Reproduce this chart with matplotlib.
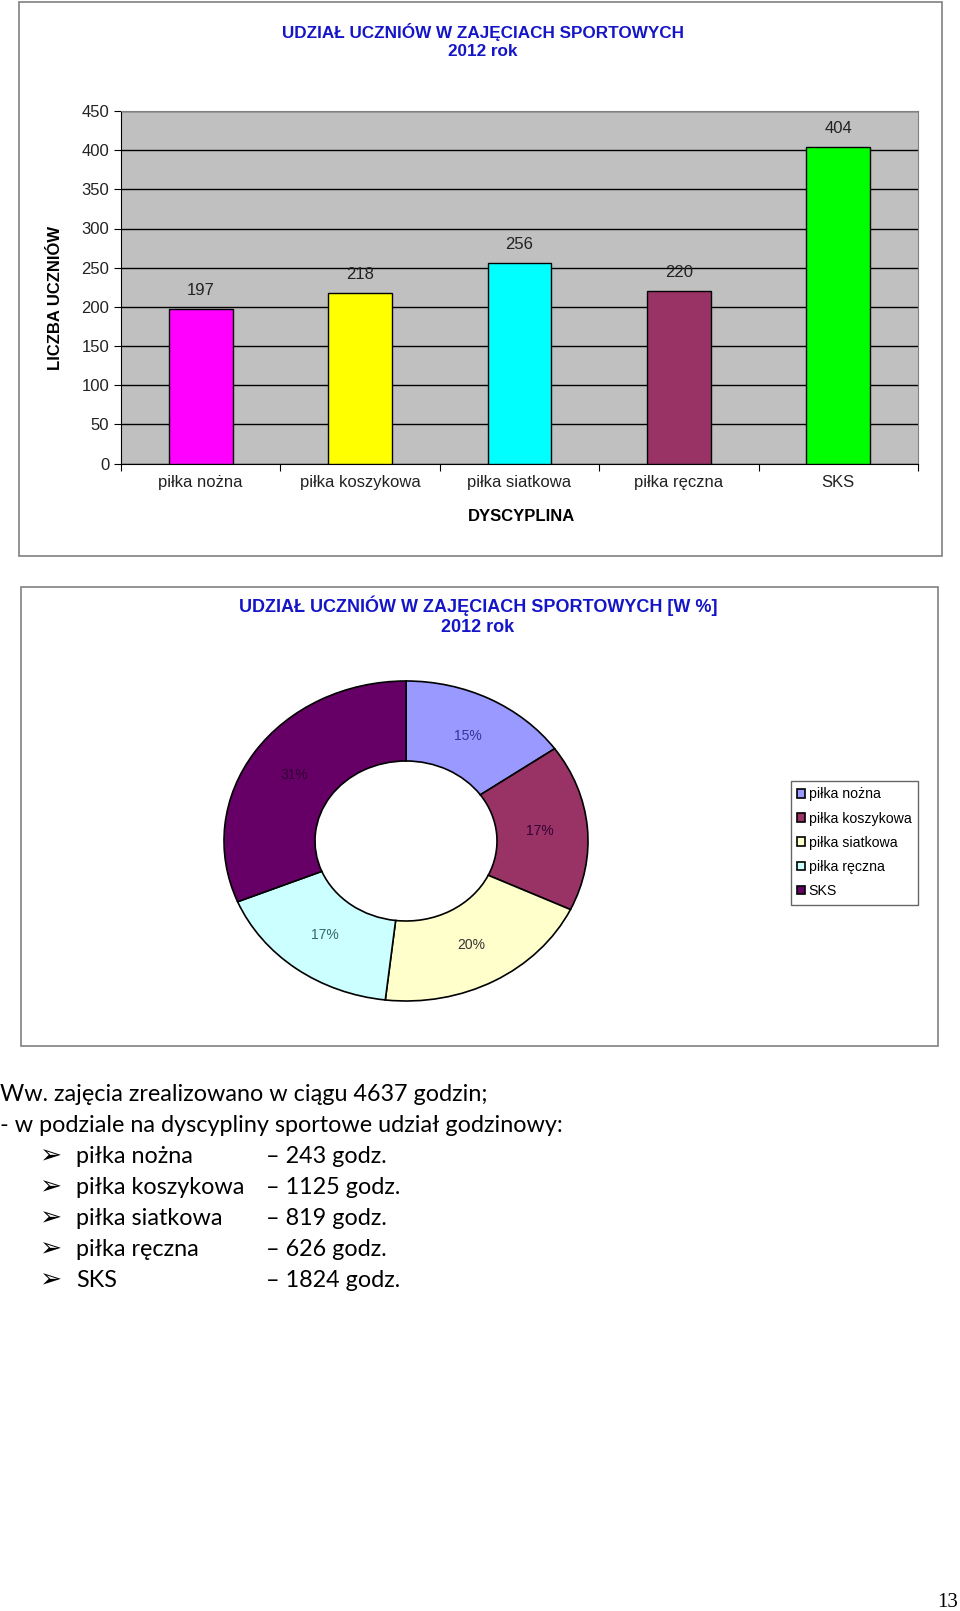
import matplotlib
matplotlib.use("Agg")
import matplotlib.pyplot as plt
from matplotlib.patches import Rectangle

categories = ["piłka nożna", "piłka koszykowa", "piłka siatkowa", "piłka ręczna", "SKS"]
students = [197, 218, 256, 220, 404]
hours = [243, 1125, 819, 626, 1824]
total_hours = 4637
bar_colors = ["#FF00FF", "#FFFF00", "#00FFFF", "#993366", "#00FF00"]
pie_colors = ["#9999FF", "#993366", "#FFFFCC", "#CCFFFF", "#660066"]
pct_colors = ["#333399", "#330033", "#333333", "#336666", "#330033"]
yticks = list(range(0, 451, 50))

W, H = 960, 1611
fig = plt.figure(figsize=(W / 100, H / 100), dpi=100)
plt.rcParams["font.family"] = ["Liberation Sans", "DejaVu Sans"]

def fx(px):
    return px / W

def fy(py):
    return 1 - py / H

# frames around both charts
fig.add_artist(Rectangle((fx(18.5), fy(556)), fx(923), 554 / H, transform=fig.transFigure,
                         fill=False, ec="#808080", lw=1.2))
fig.add_artist(Rectangle((fx(20.5), fy(1046)), fx(917.5), 459 / H, transform=fig.transFigure,
                         fill=False, ec="#808080", lw=1.2))

# ---- bar chart ----
ax = fig.add_axes([fx(121), fy(463.5), fx(797), 352.5 / H])
ax.set_facecolor("#C0C0C0")
x = list(range(len(categories)))
ax.bar(x, students, width=0.4, color=bar_colors, edgecolor="black", linewidth=1, zorder=3)
for i, v in enumerate(students):
    ax.annotate(str(v), (i, v), xytext=(0, 8), textcoords="offset points",
                ha="center", va="bottom", fontsize=12, color="#222222")
ax.set_ylim(0, 450)
ax.set_xlim(-0.5, len(categories) - 0.5)
ax.set_yticks(yticks)
ax.yaxis.grid(True, color="black", linewidth=1)
ax.set_axisbelow(True)
ax.set_xticks([i - 0.5 for i in range(len(categories) + 1)])
ax.set_xticklabels([])
ax.set_xticks(x, minor=True)
ax.set_xticklabels(categories, minor=True, fontsize=12, color="#222222")
ax.tick_params(axis="x", which="minor", length=0, pad=8)
ax.tick_params(axis="x", which="major", length=5, direction="out")
ax.tick_params(axis="y", length=5, direction="out", labelsize=12, labelcolor="#222222")
ax.spines["top"].set_color("#808080")
ax.spines["right"].set_color("#808080")
ax.set_ylabel("LICZBA UCZNIÓW", fontsize=12, fontweight="bold")
ax.yaxis.set_label_coords(-0.073, 0.47)
ax.set_xlabel("DYSCYPLINA", fontsize=12, fontweight="bold")
ax.xaxis.set_label_coords(0.503, -0.128)
fig.text(fx(483), fy(32), "UDZIAŁ UCZNIÓW W ZAJĘCIACH SPORTOWYCH", ha="center", va="center",
         fontsize=12.3, fontweight="bold", color="#1515C8")
fig.text(fx(483), fy(51), "2012 rok", ha="center", va="center",
         fontsize=12.3, fontweight="bold", color="#1515C8")

# ---- donut chart ----
pax = fig.add_axes([fx(406 - 200.2), fy(841 + 176), fx(400.4), 352 / H])
wedges, texts, autotexts = pax.pie(students, colors=pie_colors, startangle=90, counterclock=False,
                                   autopct="%1.0f%%", pctdistance=0.74,
                                   wedgeprops=dict(width=0.5, edgecolor="black", linewidth=1.2))
pax.set_aspect("auto")
pax.set_xlim(-1.1, 1.1)
pax.set_ylim(-1.1, 1.1)
for t, c in zip(autotexts, pct_colors):
    t.set_color(c)
    t.set_fontsize(10)
fig.text(fx(478), fy(606), "UDZIAŁ UCZNIÓW W ZAJĘCIACH SPORTOWYCH [W %]", ha="center", va="center",
         fontsize=13, fontweight="bold", color="#1515C8")
fig.text(fx(478), fy(627), "2012 rok", ha="center", va="center",
         fontsize=13, fontweight="bold", color="#1515C8")
leg = fig.legend(wedges, categories, loc="upper left", bbox_to_anchor=(fx(791), fy(781)),
                 fontsize=10.2, frameon=True, fancybox=False, edgecolor="#404040",
                 handlelength=0.55, handleheight=0.55, handletextpad=0.25, labelspacing=0.72,
                 borderpad=0.45, borderaxespad=0)
leg.get_frame().set_linewidth(1)

# ---- text block ----
tfont = ["Lato", "DejaVu Sans"]
fs = 16.8
fig.text(0, fy(1101), "Ww. zajęcia zrealizowano w ciągu %d godzin;" % total_hours,
         fontsize=fs, family=tfont, va="baseline")
fig.text(0, fy(1132), "- w podziale na dyscypliny sportowe udział godzinowy:",
         fontsize=fs, family=tfont, va="baseline")
for k, (name, h) in enumerate(zip(categories, hours)):
    yb = fy(1163 + 31 * k)
    fig.text(fx(39), yb, "➢", fontsize=19, family=["DejaVu Sans"], va="baseline")
    fig.text(fx(76), yb, name, fontsize=fs, family=tfont, va="baseline")
    fig.text(fx(266), yb, "– %d godz." % h, fontsize=fs, family=tfont, va="baseline")

fig.text(fx(958), fy(1607), "13", ha="right", va="baseline", fontsize=15,
         family=["Liberation Serif", "DejaVu Serif"])

fig.savefig("out.png", dpi=100)
